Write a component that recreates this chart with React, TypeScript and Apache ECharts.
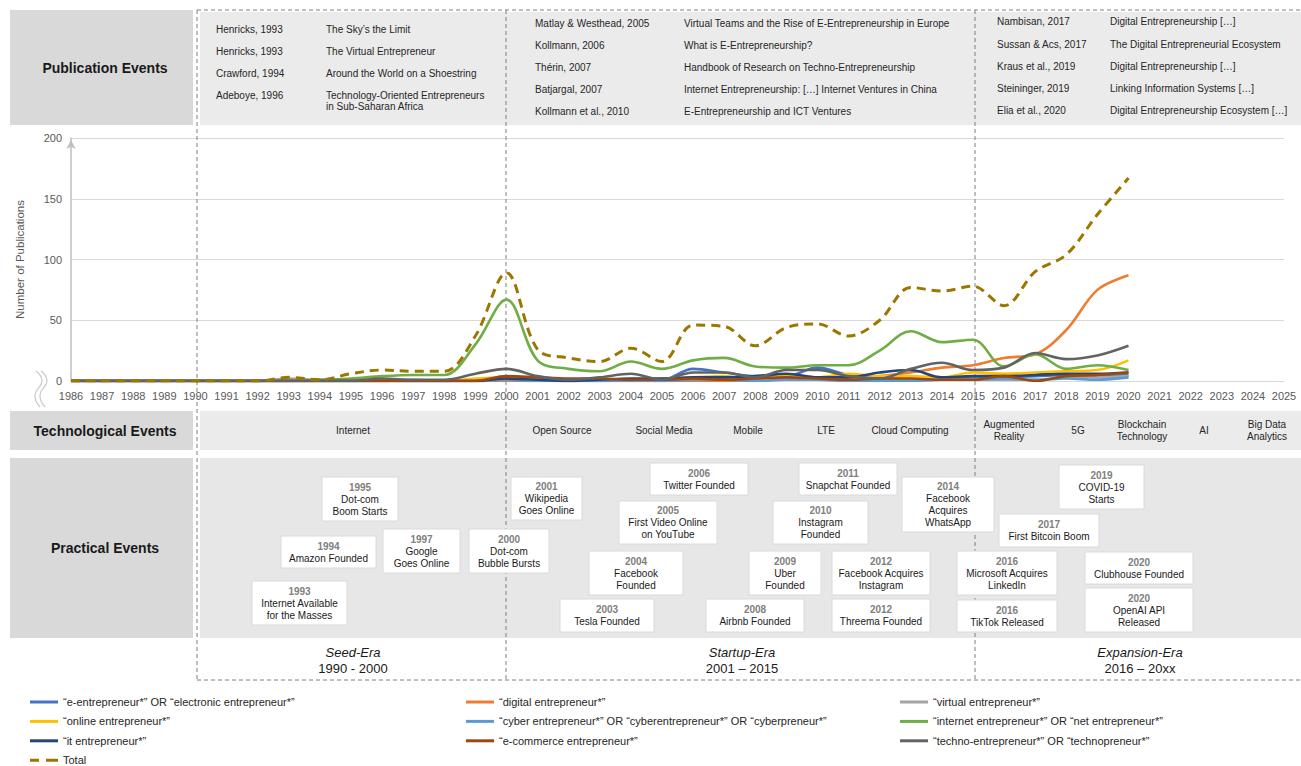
import React, { useEffect, useRef } from 'react';
import * as echarts from 'echarts';

const FONT = "'Liberation Sans', Arial, sans-serif";

const YEARS = ['1986','1987','1988','1989','1990','1991','1992','1993','1994','1995','1996','1997','1998','1999','2000','2001','2002','2003','2004','2005','2006','2007','2008','2009','2010','2011','2012','2013','2014','2015','2016','2017','2018','2019','2020','2021','2022','2023','2024','2025'];
const Y_TICKS = [0, 50, 100, 150, 200];

// values 1986 .. 2020
const E_ENTRE = [0,0,0,0,0,0,0,0,0,0,0,0,0,0, 1,1,0,1,1,1,10,7,4,4,11,5,3,1,2,2, 3,4,5,4,5];
const DIGITAL = [0,0,0,0,0,0,0,0,0,0,0,0,0,0,0,0,0,0,0,0,0,0, 1,1,2,2,4,7,11,13, 19,22,42,75,87];
const VIRTUAL = [0,0,0,0,0,0,0, 2,1,1,1,1,0,1,2,1,1,0,1,0,2,2,1,2,2,1,1,1,1,1, 1,1,3,3,4];
const ONLINE = [0,0,0,0,0,0,0,0,0,0,0,0,0, 2,3,1,1,1,1,2,3,4,0,5,3,6,4,4,3,7, 6,7,8,9,17];
const CYBER = [0,0,0,0,0,0,0,0,0,0,0,0,0,0, 1,0,0,0,0,0,1,1,0,1,1,0,0,0,1,1, 2,1,2,1,3];
const INTERNET = [0,0,0,0,0,0,0,0, 1,2,4,5,5,30,67, 17,10,8,16,10,17,19,12,11,13,13,25,41,32,34, 12,22,10,13,9];
const IT_ENTRE = [0,0,0,0,0,0,0,0,0,0,0,0,0,0, 2,1,0,1,2,2,3,3,4,6,3,3,7,9,3,4, 4,5,6,6,7];
const ECOMMERCE = [0,0,0,0,0,0,0,0,0,0,0,0,0,0, 4,3,2,2,1,1,2,1,2,3,2,1,2,2,1,1, 4,0,4,5,7];
const TECHNO = [0,0,0,0,0,0,0,0,0,0, 2,1,1,6,10,4,1,3,6,1,7,7,3,9,9,4,2,10,15,9, 11,23,18,21,29];
const TOTAL = [0,0,0,0,0,0,0, 3,1,6,9,8,8,37,89, 26,19,16,27,16,46,45,29,44,47,37,50,77,74,78, 62,90,104,137,167];

const SERIES_NAMES = [
  '“e-entrepreneur*” OR “electronic entrepreneur*”',
  '“digital entrepreneur*”',
  '“virtual entrepreneur*”',
  '“online entrepreneur*”',
  '“cyber entrepreneur*” OR “cyberentrepreneur*” OR “cyberpreneur*”',
  '“internet entrepreneur*” OR “net entrepreneur*”',
  '“it entrepreneur*”',
  '“e-commerce entrepreneur*”',
  '“techno-entrepreneur*” OR “technopreneur*”',
  'Total',
];
const SERIES_DATA = [E_ENTRE, DIGITAL, VIRTUAL, ONLINE, CYBER, INTERNET, IT_ENTRE, ECOMMERCE, TECHNO, TOTAL];
const SERIES_COLORS = ['#4472C4', '#ED7D31', '#A5A5A5', '#FFC000', '#5B9BD5', '#70AD47', '#264478', '#9E480E', '#636363', '#9C7700'];

const PUB_SEED = [
  ['Henricks, 1993', 'The Sky’s the Limit'],
  ['Henricks, 1993', 'The Virtual Entrepreneur'],
  ['Crawford, 1994', 'Around the World on a Shoestring'],
  ['Adeboye, 1996', 'Technology-Oriented Entrepreneurs\nin Sub-Saharan Africa'],
];
const PUB_STARTUP = [
  ['Matlay & Westhead, 2005', 'Virtual Teams and the Rise of E-Entrepreneurship in Europe'],
  ['Kollmann, 2006', 'What is E-Entrepreneurship?'],
  ['Thérin, 2007', 'Handbook of Research on Techno-Entrepreneurship'],
  ['Batjargal, 2007', 'Internet Entrepreneurship: […] Internet Ventures in China'],
  ['Kollmann et al., 2010', 'E-Entrepreneurship and ICT Ventures'],
];
const PUB_EXPANSION = [
  ['Nambisan, 2017', 'Digital Entrepreneurship […]'],
  ['Sussan & Acs, 2017', 'The Digital Entrepreneurial Ecosystem'],
  ['Kraus et al., 2019', 'Digital Entrepreneurship […]'],
  ['Steininger, 2019', 'Linking Information Systems […]'],
  ['Elia et al., 2020', 'Digital Entrepreneurship Ecosystem […]'],
];

const TECH_EVENTS = ['Internet', 'Open Source', 'Social Media', 'Mobile', 'LTE', 'Cloud Computing', 'Augmented\nReality', '5G', 'Blockchain\nTechnology', 'AI', 'Big Data\nAnalytics'];

const PRACTICAL = [
  ['1993', 'Internet Available\nfor the Masses'],
  ['1994', 'Amazon Founded'],
  ['1995', 'Dot-com\nBoom Starts'],
  ['1997', 'Google\nGoes Online'],
  ['2000', 'Dot-com\nBubble Bursts'],
  ['2001', 'Wikipedia\nGoes Online'],
  ['2003', 'Tesla Founded'],
  ['2004', 'Facebook\nFounded'],
  ['2005', 'First Video Online\non YouTube'],
  ['2006', 'Twitter Founded'],
  ['2008', 'Airbnb Founded'],
  ['2009', 'Uber\nFounded'],
  ['2010', 'Instagram\nFounded'],
  ['2011', 'Snapchat Founded'],
  ['2012', 'Facebook Acquires\nInstagram'],
  ['2012', 'Threema Founded'],
  ['2014', 'Facebook\nAcquires\nWhatsApp'],
  ['2016', 'Microsoft Acquires\nLinkedIn'],
  ['2016', 'TikTok Released'],
  ['2017', 'First Bitcoin Boom'],
  ['2019', 'COVID-19\nStarts'],
  ['2020', 'Clubhouse Founded'],
  ['2020', 'OpenAI API\nReleased'],
];

const ERAS = [
  ['Seed-Era', '1990 - 2000'],
  ['Startup-Era', '2001 – 2015'],
  ['Expansion-Era', '2016 – 20xx'],
];

// ---------- layout (positions only) ----------
const PUB_LAYOUT = [
  { ax: 216, tx: 326, rows: [30, 52, 74, 96] },
  { ax: 535, tx: 684, rows: [24, 46, 68, 90, 112] },
  { ax: 997, tx: 1110, rows: [22, 45, 67, 89, 111] },
];
const TECH_X = [353, 562, 664, 748, 826, 910, 1009, 1078, 1142, 1204, 1267];
const BOX_LAYOUT = [
  [252, 581, 95, 44],
  [281, 536, 95, 32],
  [322, 477, 76, 44],
  [383, 529, 77, 44],
  [469, 529, 80, 44],
  [511, 477, 71, 43],
  [560, 599, 94, 33],
  [589, 551, 94, 44],
  [619, 501, 98, 43],
  [650, 463, 98, 32],
  [706, 599, 98, 33],
  [749, 551, 72, 44],
  [773, 501, 95, 43],
  [799, 463, 98, 32],
  [832, 551, 98, 44],
  [832, 599, 98, 33],
  [902, 477, 92, 55],
  [957, 551, 100, 44],
  [957, 600, 100, 32],
  [999, 514, 100, 33],
  [1059, 465, 85, 44],
  [1085, 552, 108, 32],
  [1085, 588, 108, 44],
];
const ERA_X = [353, 742, 1140];
const DASH_X = [197, 506, 975];

const LINE_ICON = 'path://M0,0h28v3h-28z';
const DASH_ICON = 'path://M0,0h9v3h-9z M16,0h12v3h-12z';

function text(x: number, y: number, t: string, style: any, z = 10) {
  return {
    type: 'text', x, y, z, silent: true,
    style: { text: t, fontFamily: FONT, fill: '#262626', fontSize: 10, ...style },
  };
}

const CENTER = { textAlign: 'center', align: 'center', textVerticalAlign: 'middle', verticalAlign: 'middle' };
const CENTER_TOP = { textAlign: 'center', align: 'center', textVerticalAlign: 'top', verticalAlign: 'top' };

function buildGraphic() {
  const g: any[] = [];
  const LABEL_FILL = '#D9D9D9';
  const CONTENT_FILL = '#EBEBEB';
  const bands = [
    { y: 10, h: 115, label: 'Publication Events' },
    { y: 411, h: 39, label: 'Technological Events' },
    { y: 458, h: 180, label: 'Practical Events' },
  ];
  bands.forEach((b, i) => {
    g.push({ type: 'rect', z: 0, silent: true, shape: { x: 10, y: b.y, width: 183, height: b.h }, style: { fill: LABEL_FILL } });
    g.push({ type: 'rect', z: 0, silent: true, shape: { x: 200, y: i === 0 ? b.y + 2 : b.y, width: 1101, height: i === 0 ? b.h - 2 : b.h }, style: { fill: i === 2 ? '#E7E7E7' : CONTENT_FILL } });
    g.push(text(105, b.y + b.h / 2, b.label, { fontSize: 14, fontWeight: 'bold', fill: '#1a1a1a', ...CENTER }));
  });
  const dash = { stroke: '#7F7F7F', lineWidth: 1, lineDash: [4, 3] };
  DASH_X.forEach((x) => {
    g.push({ type: 'line', z: 1, silent: true, shape: { x1: x, y1: 10, x2: x, y2: 680 }, style: dash });
  });
  g.push({ type: 'line', z: 1, silent: true, shape: { x1: 197, y1: 10, x2: 1301, y2: 10 }, style: dash });
  g.push({ type: 'line', z: 1, silent: true, shape: { x1: 197, y1: 680, x2: 1301, y2: 680 }, style: dash });

  [PUB_SEED, PUB_STARTUP, PUB_EXPANSION].forEach((list, ci) => {
    const L = PUB_LAYOUT[ci];
    list.forEach((p, ri) => {
      const y = L.rows[ri] - 6;
      const st = { fontSize: 10, fill: '#262626', textVerticalAlign: 'top', verticalAlign: 'top', lineHeight: 11 };
      g.push(text(L.ax, y, p[0], st));
      g.push(text(L.tx, y, p[1], st));
    });
  });

  TECH_EVENTS.forEach((t, i) => {
    g.push(text(TECH_X[i], 430.5, t, { fontSize: 10, fill: '#262626', lineHeight: 12, ...CENTER }));
  });

  PRACTICAL.forEach((p, i) => {
    const [bx, by, bw, bh] = BOX_LAYOUT[i];
    g.push({ type: 'rect', z: 5, silent: true, shape: { x: bx, y: by, width: bw, height: bh }, style: { fill: '#FFFFFF', stroke: '#DADADA', lineWidth: 1 } });
    const lines = 1 + p[1].split('\n').length;
    const top = by + bh / 2 - (lines * 12) / 2;
    const cx = bx + bw / 2;
    g.push(text(cx, top, p[0], { fontSize: 10, fontWeight: 'bold', fill: '#808080', lineHeight: 12, ...CENTER_TOP }, 6));
    g.push(text(cx, top + 12, p[1], { fontSize: 10, fill: '#1a1a1a', lineHeight: 12, ...CENTER_TOP }, 6));
  });

  ERAS.forEach((e, i) => {
    g.push(text(ERA_X[i], 652, e[0], { fontSize: 13, fontStyle: 'italic', fill: '#1a1a1a', ...CENTER }));
    g.push(text(ERA_X[i], 668, e[1], { fontSize: 13, fill: '#1a1a1a', ...CENTER }));
  });

  const sq = { stroke: '#C8C8C8', lineWidth: 1.2, fill: 'none' };
  g.push({ type: 'polyline', z: 3, silent: true, shape: { points: [[36, 371], [42, 381], [35, 395], [40, 407]], smooth: 0.5 }, style: sq });
  g.push({ type: 'polyline', z: 3, silent: true, shape: { points: [[41, 371], [47, 381], [40, 395], [45, 407]], smooth: 0.5 }, style: sq });
  return g;
}

function legendItems(idx: number[]) {
  return idx.map((i) => ({ name: SERIES_NAMES[i], icon: i === 9 ? DASH_ICON : LINE_ICON }));
}

export default function App() {
  const ref = useRef<HTMLDivElement>(null);
  useEffect(() => {
    document.body.style.margin = '0';
    if (!ref.current) return;
    const chart = echarts.init(ref.current, undefined, { renderer: 'svg' });
    const legendStyle = {
      orient: 'vertical' as const,
      top: 695,
      height: 90,
      padding: 0,
      itemWidth: 28,
      itemHeight: 14,
      itemGap: 5.4,
      selectedMode: false,
      symbolKeepAspect: true,
      textStyle: { fontSize: 11, color: '#262626', fontFamily: FONT, lineHeight: 14 },
    };
    chart.setOption({
      animation: false,
      textStyle: { fontFamily: FONT },
      grid: { left: 71, right: 17, top: 138, bottom: 385, containLabel: false },
      legend: [
        { ...legendStyle, left: 30, data: legendItems([0, 3, 6, 9]) },
        { ...legendStyle, left: 466, data: legendItems([1, 4, 7]) },
        { ...legendStyle, left: 900, data: legendItems([2, 5, 8]) },
      ],
      xAxis: {
        type: 'category',
        data: YEARS,
        boundaryGap: false,
        axisLine: { show: true, lineStyle: { color: '#D9D9D9' } },
        axisTick: { show: false },
        axisLabel: { interval: 0, fontSize: 11, color: '#595959', margin: 9, fontFamily: FONT },
        splitLine: { show: false },
      },
      yAxis: {
        type: 'value',
        min: Y_TICKS[0],
        max: Y_TICKS[Y_TICKS.length - 1],
        interval: 50,
        name: 'Number of Publications',
        nameLocation: 'middle',
        nameGap: 45,
        nameTextStyle: { fontSize: 11.5, color: '#595959', fontFamily: FONT },
        axisLine: { show: true, lineStyle: { color: '#BFBFBF', width: 1.5 }, symbol: ['none', 'arrow'], symbolSize: [7, 9], symbolOffset: [0, -2] },
        axisTick: { show: false },
        axisLabel: { fontSize: 11, color: '#595959', margin: 9, fontFamily: FONT },
        splitLine: { lineStyle: { color: '#D9D9D9', width: 1 } },
      },
      series: SERIES_NAMES.map((name, i) => ({
        name,
        type: 'line',
        data: SERIES_DATA[i],
        smooth: 0.35,
        symbol: 'none',
        z: i === 9 ? 4 : 3,
        itemStyle: { color: SERIES_COLORS[i] },
        lineStyle: i === 9
          ? { color: SERIES_COLORS[i], width: 3, type: [9, 6] }
          : { color: SERIES_COLORS[i], width: 2.6 },
      })),
      graphic: { elements: buildGraphic() },
    });
    return () => chart.dispose();
  }, []);
  return <div ref={ref} style={{ width: 1301, height: 766 }} />;
}
